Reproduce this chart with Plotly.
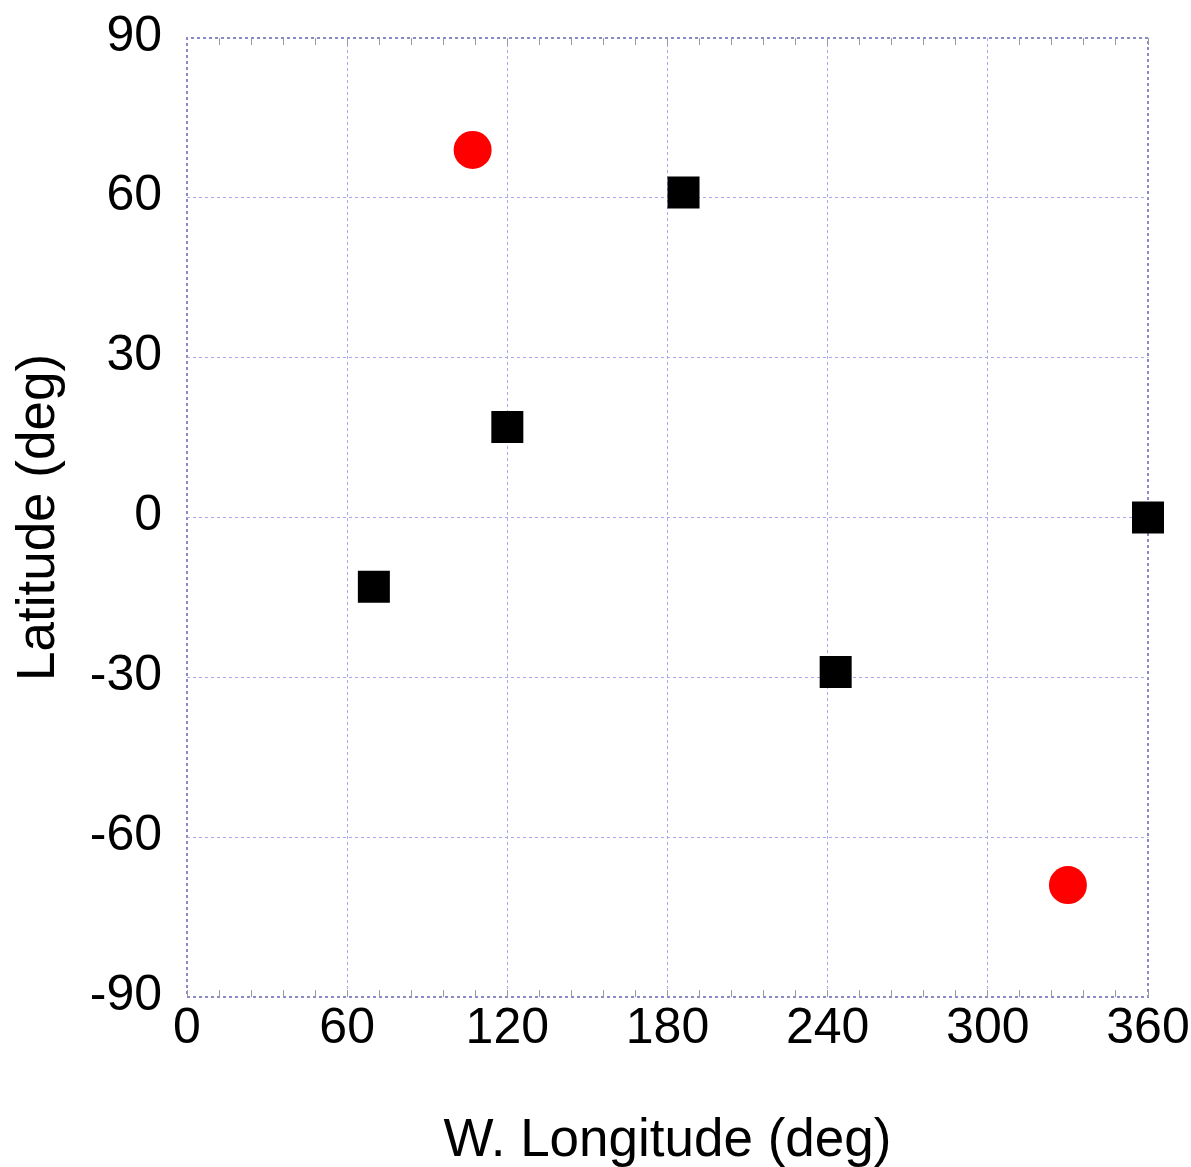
import plotly.graph_objects as go

# Feature positions: west longitude and latitude, in degrees
square_lon = [186, 120, 70, 243, 360]
square_lat = [61, 17, -13, -29, 0]

circle_lon = [107, 330]
circle_lat = [69, -69]

x_ticks = [0, 60, 120, 180, 240, 300, 360]
y_ticks = [-90, -60, -30, 0, 30, 60, 90]

FONT = "Liberation Sans, Arial, Helvetica, sans-serif"
GRID = "#a8a8f0"
FRAME = "#8a8ac8"
MINOR = "#9a9a9a"

fig = go.Figure()

fig.add_trace(go.Scatter(
    x=square_lon, y=square_lat, mode="markers", cliponaxis=False,
    marker=dict(symbol="square", size=32, color="black", line=dict(width=0)),
    showlegend=False,
))
fig.add_trace(go.Scatter(
    x=circle_lon, y=circle_lat, mode="markers", cliponaxis=False,
    marker=dict(symbol="circle", size=38, color="#ff0000", line=dict(width=0)),
    showlegend=False,
))
# empty trace so the top axis (minor ticks only) is drawn
fig.add_trace(go.Scatter(x=[], y=[], xaxis="x2", yaxis="y", showlegend=False))

# dotted plot frame
fig.add_shape(
    type="rect", xref="x domain", yref="y domain",
    x0=0, x1=1, y0=0, y1=1,
    line=dict(color=FRAME, width=2, dash="dot"),
    layer="below",
)

minor_ticks = dict(ticks="inside", dtick=12, tick0=0, ticklen=7,
                   tickcolor=MINOR, tickwidth=1, showgrid=False)

fig.update_layout(
    width=1191, height=1167,
    margin=dict(l=187, r=43, t=38, b=170),
    paper_bgcolor="white", plot_bgcolor="white",
    font=dict(family=FONT, color="black", size=50),
    xaxis=dict(
        range=[0, 360], tickvals=x_ticks, ticktext=[str(v) for v in x_ticks],
        showgrid=True, gridcolor=GRID, gridwidth=1, griddash="dot",
        zeroline=False, showline=False, ticks="", automargin=False,
        minor=minor_ticks, ticklabelstandoff=-5,
        tickfont=dict(size=50),
        title=dict(text="W. Longitude (deg)", font=dict(size=53), standoff=66),
    ),
    xaxis2=dict(
        range=[0, 360], overlaying="x", side="top", anchor="y",
        showgrid=False, zeroline=False, showline=False, ticks="",
        showticklabels=False, automargin=False, minor=minor_ticks,
    ),
    yaxis=dict(
        range=[-90, 90], tickvals=y_ticks, ticktext=[str(v) for v in y_ticks],
        showgrid=True, gridcolor=GRID, gridwidth=1, griddash="dot",
        zeroline=False, showline=False, ticks="", automargin=False,
        ticklabelstandoff=24, ticklabelshift=-5,
        tickfont=dict(size=50),
        title=dict(text="Latitude (deg)", font=dict(size=53), standoff=18),
    ),
)

fig.write_html("out.html")
